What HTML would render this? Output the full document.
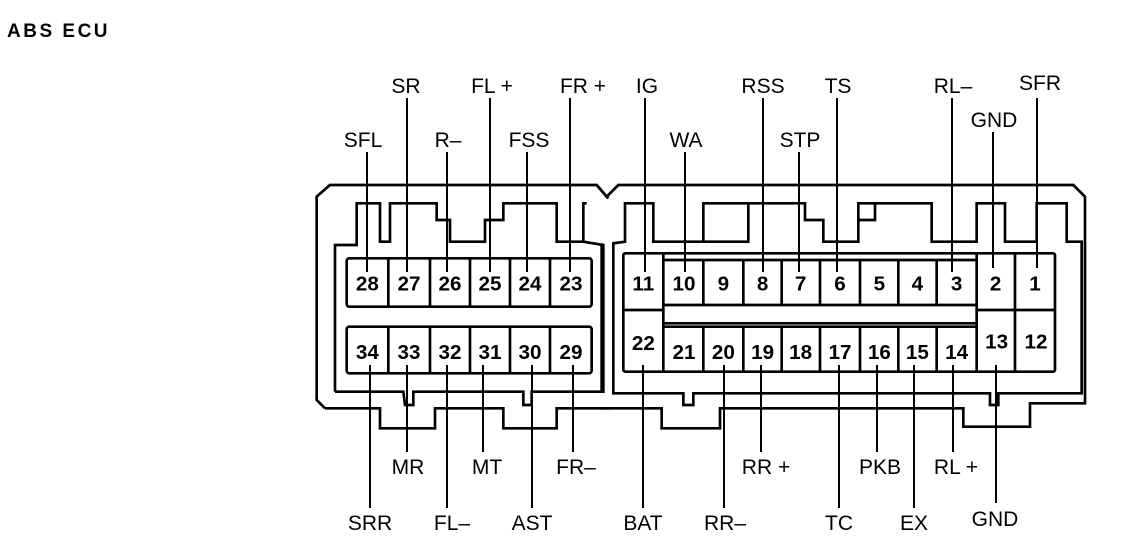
<!DOCTYPE html>
<html><head><meta charset="utf-8"><style>
html,body{margin:0;padding:0;background:#fff;}
svg{display:block;}
.l{font-family:"Liberation Sans",sans-serif;font-size:21px;fill:#000;text-anchor:middle;}
.n{font-family:"Liberation Sans",sans-serif;font-size:62px;font-weight:bold;fill:#000;text-anchor:middle;}
</style></head><body>
<svg width="1136" height="548" viewBox="0 0 1136 548" xmlns="http://www.w3.org/2000/svg">
<text x="7" y="37" style="font-family:'Liberation Sans',sans-serif;font-size:19px;font-weight:bold;letter-spacing:2.5px">ABS ECU</text>

<g fill="none" stroke="#000" stroke-width="2">
<path d="M367,152V272 M407,98V272 M447,152V272 M490,98V272 M527,152V272 M570,98V272
M645,98V272 M685,152V272 M763,98V272 M799,152V272 M837,98V272 M952,98V272 M993,132V268 M1037,98V268"/>
<path d="M370,365V508 M407,365V452 M447,365V508 M483,365V452 M532,365V508 M573,365V452
M643,365V508 M724,365V508 M761,365V452 M839,365V508 M877,365V452 M914,365V508 M953,365V452 M996,365V503"/>
</g>

<g transform="translate(310,170) scale(0.33333)" fill="none" stroke="#000" stroke-width="8" stroke-linejoin="miter">
<path d="M45,715 L20,690 L20,80 L60,45 L860,45 L895,85"/>
<path d="M45,715 L210,715 L210,775 L375,775 L375,715 L580,715 L580,775 L740,775 L740,715 L900,715"/>
<path d="M75,665 L75,225 L140,225 L140,100 L210,100 L210,215 L240,215 L240,100 L380,100 L380,150 L420,150 L420,215 L525,215 L525,150 L580,150 L580,100 L740,100 L740,215 L820,215 L820,100 L830,100"/>
<path d="M820,215 L880,225 L880,665 L665,665 L665,705 L640,705 L640,665 L310,665 L310,705 L285,705 L280,665 L75,665"/>
<rect x="110" y="265" width="735" height="145" rx="8"/>
<rect x="110" y="470" width="735" height="140" rx="8"/>
<path d="M235,265V410 M360,265V410 M480,265V410 M600,265V410 M720,265V410 M235,470V610 M360,470V610 M480,470V610 M600,470V610 M720,470V610"/>
</g>
<g transform="translate(310,170) scale(0.33333)">
<text class="n" x="172" y="362">28</text><text class="n" x="297" y="362">27</text><text class="n" x="420" y="362">26</text><text class="n" x="540" y="362">25</text><text class="n" x="660" y="362">24</text><text class="n" x="783" y="362">23</text>
<text class="n" x="172" y="567">34</text><text class="n" x="297" y="567">33</text><text class="n" x="420" y="567">32</text><text class="n" x="540" y="567">31</text><text class="n" x="660" y="567">30</text><text class="n" x="783" y="567">29</text>
</g>

<g transform="translate(600,170) scale(0.33333)" fill="none" stroke="#000" stroke-width="8">
<path d="M-10,45 L20,80 L55,45 L1420,45 L1455,80 L1455,700 L1290,700 L1290,770 L1090,770 L1090,715 L360,715 L360,775 L185,775 L185,715 L0,715"/>
<path d="M5,220 V665"/>
<path d="M40,660 L40,220 L75,215 L75,100 L160,100 L160,215 L310,215 L310,100 L445,100 L445,215 L310,215"/>
<path d="M445,100 L615,100 L615,150 L670,150 L670,215 L775,215 L775,100 L825,100 L825,150 L775,150"/>
<path d="M825,100 L995,100 L995,215 L1130,215 L1130,100 L1215,100 L1215,215 L1310,215 L1310,100 L1400,100 L1400,215 L1445,215 L1445,670 L1195,670 L1195,705 L1170,705 L1170,670 L280,670 L280,705 L250,705 L250,670 L40,670 L40,660"/>
<rect x="70" y="250" width="1295" height="355" rx="6"/>
<path d="M190,250V605 M1130,250V605 M1245,250V605 M70,420H190 M1130,420H1365 M190,270H1130 M190,405H1130 M190,470H1130 M190,460H1130"/>
<path d="M310,270V405 M430,270V405 M545,270V405 M660,270V405 M780,270V405 M895,270V405 M1010,270V405"/>
<path d="M310,470V605 M430,470V605 M545,470V605 M660,470V605 M780,470V605 M895,470V605 M1010,470V605"/>
</g>
<g transform="translate(600,170) scale(0.33333)">
<text class="n" x="130" y="362">11</text><text class="n" x="252" y="362">10</text><text class="n" x="370" y="362">9</text><text class="n" x="488" y="362">8</text><text class="n" x="602" y="362">7</text><text class="n" x="720" y="362">6</text><text class="n" x="838" y="362">5</text><text class="n" x="952" y="362">4</text><text class="n" x="1070" y="362">3</text><text class="n" x="1187" y="362">2</text><text class="n" x="1305" y="362">1</text>
<text class="n" x="130" y="540">22</text><text class="n" x="252" y="567">21</text><text class="n" x="370" y="567">20</text><text class="n" x="488" y="567">19</text><text class="n" x="602" y="567">18</text><text class="n" x="720" y="567">17</text><text class="n" x="838" y="567">16</text><text class="n" x="952" y="567">15</text><text class="n" x="1070" y="567">14</text><text class="n" x="1190" y="535">13</text><text class="n" x="1308" y="535">12</text>
</g>

<text class="l" x="406" y="93">SR</text><text class="l" x="492" y="93">FL +</text><text class="l" x="583" y="93">FR +</text>
<text class="l" x="363" y="147">SFL</text><text class="l" x="448" y="147">R–</text><text class="l" x="529" y="147">FSS</text>
<text class="l" x="647" y="93">IG</text><text class="l" x="686" y="147">WA</text><text class="l" x="763" y="93">RSS</text><text class="l" x="800" y="147">STP</text><text class="l" x="838" y="93">TS</text><text class="l" x="953" y="93">RL–</text><text class="l" x="994" y="127">GND</text><text class="l" x="1040" y="90">SFR</text>
<text class="l" x="408" y="474">MR</text><text class="l" x="487" y="474">MT</text><text class="l" x="576" y="474">FR–</text>
<text class="l" x="370" y="530">SRR</text><text class="l" x="452" y="530">FL–</text><text class="l" x="532" y="530">AST</text>
<text class="l" x="766" y="474">RR +</text><text class="l" x="880" y="474">PKB</text><text class="l" x="956" y="474">RL +</text>
<text class="l" x="643" y="530">BAT</text><text class="l" x="725" y="530">RR–</text><text class="l" x="839" y="530">TC</text><text class="l" x="914" y="530">EX</text><text class="l" x="995" y="526">GND</text>
</svg>
</body></html>
